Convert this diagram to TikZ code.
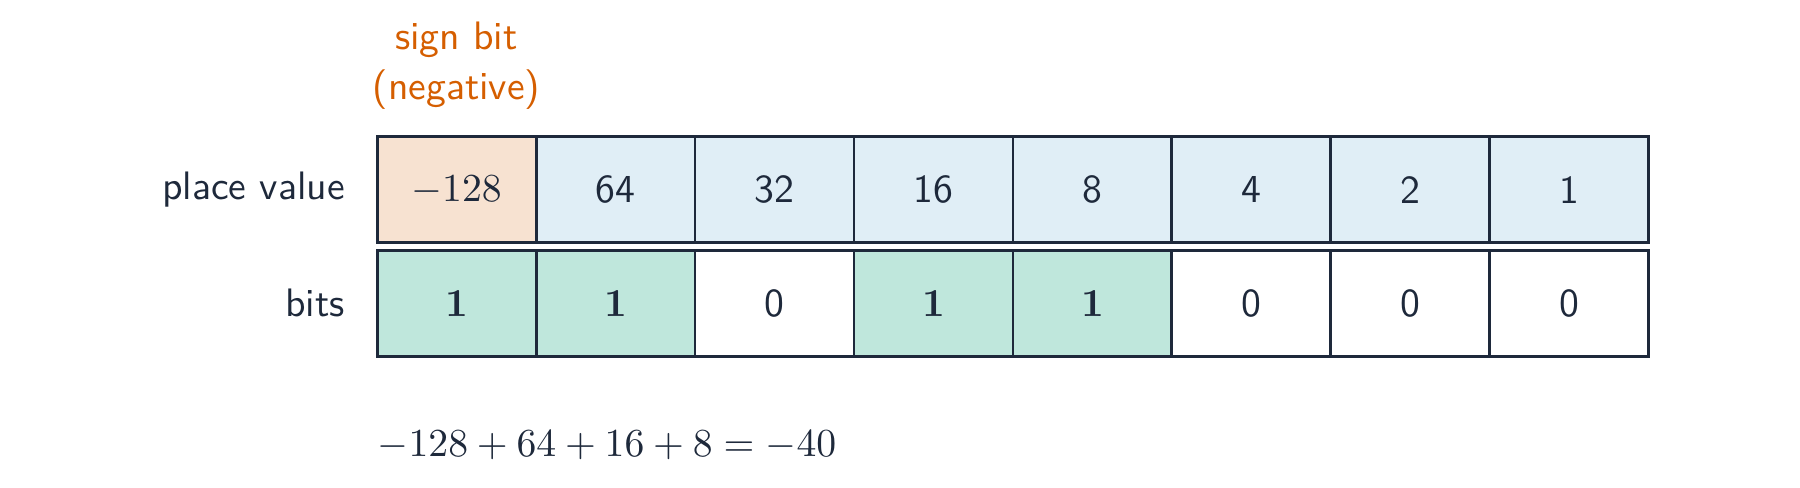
\documentclass[tikz,border=0pt]{standalone}
\usepackage{fix-cm}
\usepackage{tikz}
\usetikzlibrary{positioning, calc}
\usepackage{xcolor}
\definecolor{inkcolor}{HTML}{1E293B}
\definecolor{signcolor}{HTML}{D55E00}
\definecolor{onecolor}{HTML}{009E73}
\definecolor{placecolor}{HTML}{0072B2}
\newcommand{\cellfont}{\fontsize{10.65pt}{13.4pt}\selectfont}

\begin{document}
\begin{tikzpicture}[
    node distance=0pt,
    % Cell styles
    cell/.style={rectangle, draw=inkcolor, line width=0.8pt, outer sep=0pt, minimum width=1.5cm, minimum height=1cm, text centered, font=\cellfont\sffamily, text=inkcolor},
    placecell/.style={cell, fill=placecolor!12},
    signcell/.style={cell, fill=signcolor!18},
    onecell/.style={cell, fill=onecolor!25},
    zerocell/.style={cell, fill=white},
    % Text styles
    rowlabel/.style={font=\cellfont\sffamily, text=inkcolor, anchor=east},
    note/.style={font=\cellfont\sffamily, text=signcolor, align=center},
    eqn/.style={font=\cellfont, text=inkcolor, inner xsep=0pt},
]
\useasboundingbox (-3.557,1.292) rectangle (13.425,-3.311);

% Place value row
\node (v1) [signcell] at (0.75,-0.5) {$-128$};
\node (v2) [placecell, right=of v1] {64};
\node (v3) [placecell, right=of v2] {32};
\node (v4) [placecell, right=of v3] {16};
\node (v5) [placecell, right=of v4] {8};
\node (v6) [placecell, right=of v5] {4};
\node (v7) [placecell, right=of v6] {2};
\node (v8) [placecell, right=of v7] {1};

% Bit row
\node (b1) [onecell, below=0.07cm of v1] {$\mathbf{1}$};
\node (b2) [onecell, right=of b1] {$\mathbf{1}$};
\node (b3) [zerocell, right=of b2] {0};
\node (b4) [onecell, right=of b3] {$\mathbf{1}$};
\node (b5) [onecell, right=of b4] {$\mathbf{1}$};
\node (b6) [zerocell, right=of b5] {0};
\node (b7) [zerocell, right=of b6] {0};
\node (b8) [zerocell, right=of b7] {0};

% Row labels
\node (placelabel) [rowlabel, left=0.18cm of v1] {place value};
\node (bitslabel) [rowlabel, left=0.18cm of b1] {bits};

% Sign bit note
\node (signnote) [note, above=0.14cm of v1] {sign bit\\(negative)};

% Sum
\node (sum) [eqn, below right=0.58cm and 0cm of b1.south west] {$-128+64+16+8=-40$};

\end{tikzpicture}
\end{document}
